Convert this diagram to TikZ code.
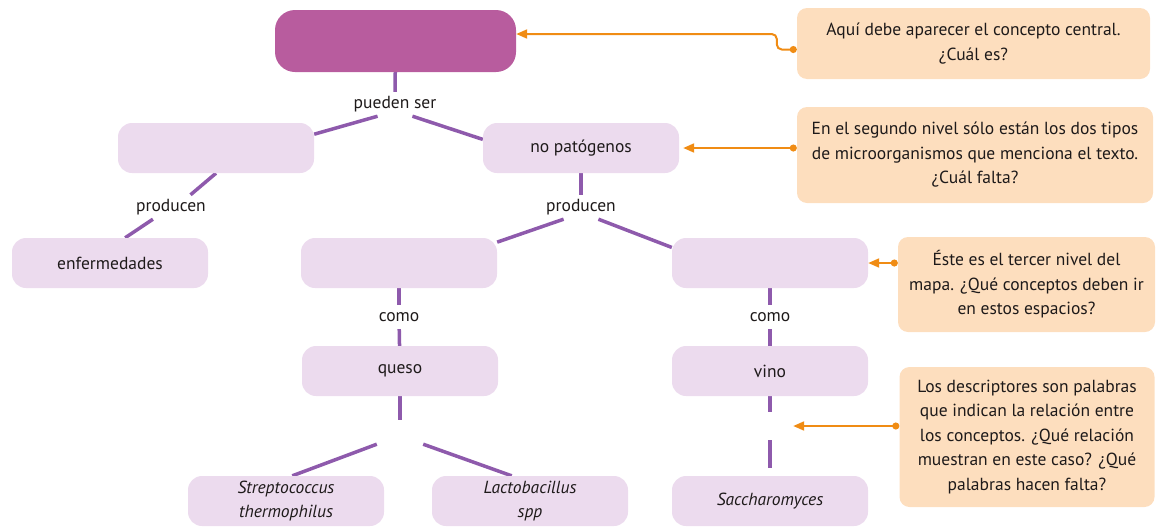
\documentclass[tikz,border=0pt]{standalone}
\usepackage{fontspec}
\setmainfont{PT Sans}
\usetikzlibrary{arrows.meta,backgrounds}
\definecolor{mainpink}{RGB}{184,92,158}
\definecolor{boxpink}{RGB}{236,219,238}
\definecolor{linkpurple}{RGB}{142,90,172}
\definecolor{noteorange}{RGB}{240,140,20}
\definecolor{notefill}{RGB}{253,222,190}
\definecolor{textgray}{RGB}{30,26,26}

\begin{document}
\begin{tikzpicture}[x=1pt, y=-1pt,
  every node/.style={font=\fontsize{17.5}{21}\selectfont, text=textgray},
  main/.style={fill=mainpink, rounded corners=20pt, minimum width=241pt, minimum height=62pt},
  concept/.style={fill=boxpink, rounded corners=14pt, minimum width=196pt, minimum height=50pt,
    inner sep=0pt, align=center, font=\fontsize{17.5}{23.5}\selectfont},
  desc/.style={inner sep=0pt, minimum width=46pt, minimum height=24pt},
  link/.style={draw=linkpurple, line width=3.5pt},
  note/.style={fill=notefill, rounded corners=10pt, align=center, font=\fontsize{17.5}{24.5}\selectfont},
  tip/.style={draw=noteorange, line width=2pt, {Circle[length=7pt]}-{Triangle[length=11pt,width=9pt]}}
]
\useasboundingbox (0,0) rectangle (1157,528);

% concept map
\node[main] (central) at (395.5,41) {};
\node[desc] (ps) at (395,104) {pueden ser};
\node[concept] (pat) at (216,148) {};
\node[concept] (np) at (581,148) {no patógenos};
\node[desc] (pl) at (171,207) {producen};
\node[desc] (pr) at (581,207) {producen};
\node[concept] (enf) at (110,263) {enfermedades};
\node[concept] (l3l) at (399,263) {};
\node[concept] (l3r) at (770,263) {};
\node[desc] (cl) at (399,317) {como};
\node[desc] (cr) at (770,317) {como};
\node[concept] (queso) at (400,371) {queso};
\node[concept] (vino) at (770,371) {vino};
\node[desc] (qd) at (400,432) {};
\node[desc, minimum height=28pt] (vd) at (770,426) {};
\node[concept] (strep) at (286,501) {\textit{Streptococcus}\\\textit{thermophilus}};
\node[concept] (lacto) at (530,501) {\textit{Lactobacillus}\\\textit{spp}};
\node[concept] (sacc) at (770,501) {\textit{Saccharomyces}};

\begin{scope}[on background layer]
\draw[link] (central) -- (ps);
\draw[link] (ps.-145) -- (pat.8);
\draw[link] (ps.-35) -- (np.175);
\draw[link] (pat.south) -- (pl.32);
\draw[link] (pl.-146) -- (enf.59);
\draw[link] (np) -- (pr);
\draw[link] (pr.-145) -- (l3l.12);
\draw[link] (pr.-35) -- (l3r.171);
\draw[link] (l3l) -- (cl);
\draw[link] (cl) -- (queso);
\draw[link] (l3r) -- (cr);
\draw[link] (cr) -- (vino);
\draw[link] (queso) -- (qd);
\draw[link] (qd.south west) -- (strep.76);
\draw[link] (qd.south east) -- (lacto.126);
\draw[link] (vino) -- (vd);
\draw[link, shorten >=8pt] (vd) -- (sacc);
\end{scope}

% notes
\node[note, minimum width=353pt, minimum height=71pt] (n1) at (973.5,43.5)
  {Aquí debe aparecer el concepto central.\\¿Cuál es?};
\node[note, minimum width=356pt, minimum height=96pt] (n2) at (975,155)
  {En el segundo nivel sólo están los dos tipos\\de microorganismos que menciona el texto.\\¿Cuál falta?};
\node[note, minimum width=257pt, minimum height=95pt] (n3) at (1026.5,284.5)
  {Éste es el tercer nivel del\\mapa. ¿Qué conceptos deben ir\\en estos espacios?};
\node[note, minimum width=255pt, minimum height=140pt] (n4) at (1027,437)
  {Los descriptores son palabras\\que indican la relación entre\\los conceptos. ¿Qué relación\\muestran en este caso? ¿Qué\\palabras hacen falta?};

\draw[tip, rounded corners=5pt] ([yshift=-6pt]n1.west) -- ++(-20,0) |- ([yshift=7pt]central.east);
\draw[tip, shorten >=4pt] (n2.west |- np) -- (np.east);
\draw[tip] (n3.west |- l3r) -- (l3r.east);
\draw[tip] (n4.west |- vd) -- (vd.east);
\end{tikzpicture}
\end{document}
